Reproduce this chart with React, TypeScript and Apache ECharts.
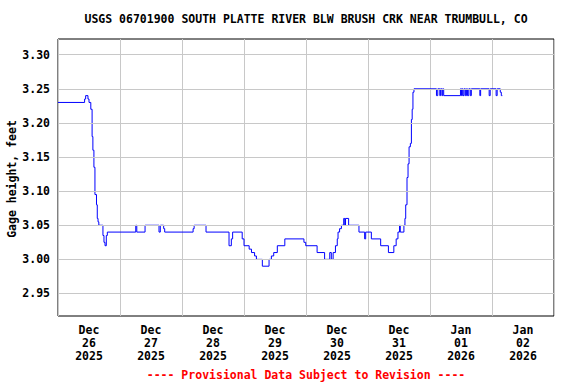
import React, { useEffect, useRef } from "react";
import * as echarts from "echarts";

// Hours since Dec 26 2025 00:00 at which the gage height changes
const hours = [
  0, 10.3, 10.7, 11.6, 12.0, 12.7, 13.2, 13.5, 13.9, 14.3, 14.9, 15.2, 15.5, 15.8,
  17.4, 17.8, 18.2, 18.7, 19.1, 30.1, 30.5, 33.7, 39.1, 39.6, 40.9, 41.3, 52.3,
  52.7, 57.3, 66.2, 67.1, 67.6, 71.3, 72.0, 74.0, 74.9, 76.1, 76.8, 79.1, 81.7,
  82.6, 83.5, 84.9, 87.8, 95.2, 95.9, 100.3, 103.2, 105.2, 105.8, 106.5, 107.4,
  108.1, 108.4, 109.0, 109.7, 110.6, 111.0, 111.3, 112.5, 116.5, 118.7, 119.1,
  121.3, 124.9, 127.9, 130.0, 130.9, 131.6, 132.2, 132.5, 133.9, 134.3, 134.6,
  135.1, 135.5, 135.9, 136.4, 136.8, 137.1, 137.4, 137.8, 146.5, 147.0, 147.8,
  148.1, 148.6, 148.9, 149.3, 155.8, 156.2, 156.5, 156.8, 157.2, 157.7, 158.1,
  158.5, 159.0, 159.6, 160.0, 163.3, 163.6, 166.9, 167.3, 169.6, 170.0, 171.2,
  171.6, 172.0,
];

// Gage height, feet
const stage = [
  3.23, 3.235, 3.24, 3.235, 3.23, 3.22, 3.18, 3.16, 3.135, 3.095, 3.08, 3.06, 3.055, 3.05,
  3.035, 3.025, 3.02, 3.035, 3.04, 3.05, 3.04, 3.05, 3.04, 3.05, 3.045, 3.04, 3.045,
  3.05, 3.04, 3.02, 3.03, 3.04, 3.03, 3.02, 3.015, 3.01, 3.005, 3.0, 2.99, 3.0,
  3.005, 3.01, 3.02, 3.03, 3.025, 3.02, 3.01, 3.0, 3.01, 3.0, 3.01, 3.02,
  3.03, 3.04, 3.045, 3.05, 3.06, 3.05, 3.06, 3.05, 3.04, 3.03, 3.04,
  3.03, 3.02, 3.01, 3.02, 3.03, 3.04, 3.05, 3.04, 3.05, 3.06, 3.08,
  3.12, 3.14, 3.165, 3.17, 3.205, 3.22, 3.245, 3.25, 3.24, 3.25, 3.24,
  3.25, 3.24, 3.25, 3.24, 3.25, 3.24, 3.25, 3.24, 3.25, 3.24, 3.25,
  3.24, 3.25, 3.24, 3.25, 3.24, 3.25, 3.24, 3.25, 3.24, 3.25, 3.245,
  3.24, 3.24,
];

// y tick values (feet)
const yTicks = [2.95, 3.0, 3.05, 3.1, 3.15, 3.2, 3.25, 3.3];

const dayLabels = [
  "Dec\n26\n2025",
  "Dec\n27\n2025",
  "Dec\n28\n2025",
  "Dec\n29\n2025",
  "Dec\n30\n2025",
  "Dec\n31\n2025",
  "Jan\n01\n2026",
  "Jan\n02\n2026",
];

const titleText = "USGS 06701900 SOUTH PLATTE RIVER BLW BRUSH CRK NEAR TRUMBULL, CO";
const yTitle = "Gage height, feet";
const footerText = "---- Provisional Data Subject to Revision ----";

const FONT = "DejaVu Sans Mono";

export default function App() {
  const ref = useRef<HTMLDivElement>(null);

  useEffect(() => {
    if (!ref.current) return;
    const chart = echarts.init(ref.current, null, { renderer: "svg" });
    const data = hours.map((h, i) => [h, stage[i]]);
    chart.setOption({
      animation: false,
      backgroundColor: "#ffffff",
      grid: {
        left: 58,
        top: 39,
        right: 22,
        bottom: 68,
        containLabel: false,
        outerBoundsMode: "none",
        show: true,
        borderColor: "#000000",
        borderWidth: 1,
        backgroundColor: "transparent",
      },
      xAxis: [
        {
          type: "value",
          min: 0,
          max: 192,
          interval: 24,
          axisLine: { show: false },
          axisTick: { show: false },
          axisLabel: { show: false },
          splitLine: { show: true, lineStyle: { color: "#c8c8c8", width: 1 } },
        },
        {
          type: "value",
          position: "bottom",
          min: 0,
          max: 192,
          interval: 12,
          axisLine: { show: false },
          axisTick: { show: false },
          splitLine: { show: false },
          axisLabel: {
            show: true,
            margin: 7,
            color: "#000000",
            fontFamily: FONT,
            fontWeight: "bold",
            fontSize: 11.5,
            lineHeight: 13,
            align: "center",
            formatter: (v: number) => {
              const r = Math.round(v);
              if (r % 24 !== 12) return "";
              const idx = (r - 12) / 24;
              return dayLabels[idx] ?? "";
            },
          },
        },
      ],
      yAxis: {
        type: "value",
        min: 2.917,
        max: 3.323,
        interval: 0.001,
        axisLine: { show: false },
        axisTick: { show: false },
        splitLine: { show: false },
        axisLabel: {
          margin: 8,
          color: "#000000",
          fontFamily: FONT,
          fontWeight: "bold",
          fontSize: 11.5,
          showMinLabel: false,
          showMaxLabel: false,
          formatter: (v: number) => {
            const hit = yTicks.find((t) => Math.abs(t - v) < 0.0004);
            return hit === undefined ? "" : hit.toFixed(2);
          },
        },
      },
      series: [
        {
          type: "line",
          xAxisIndex: 0,
          data: [],
          z: 1,
          silent: true,
          markLine: {
            silent: true,
            symbol: "none",
            label: { show: false },
            lineStyle: { color: "#c8c8c8", width: 1, type: "solid" },
            data: yTicks.map((v) => ({ yAxis: v })),
          },
        },
        {
          type: "line",
          xAxisIndex: 0,
          z: 3,
          step: "end",
          showSymbol: false,
          symbol: "none",
          data,
          lineStyle: { color: "#0000ff", width: 1 },
          itemStyle: { color: "#0000ff" },
        },
      ],
      graphic: [
        {
          type: "text",
          x: 306,
          y: 19,
          style: {
            text: titleText,
            fill: "#000000",
            fontFamily: FONT,
            fontWeight: "bold",
            fontSize: 11.5,
            align: "center",
            verticalAlign: "middle",
          },
        },
        {
          type: "text",
          x: 12,
          y: 179,
          rotation: Math.PI / 2,
          style: {
            text: yTitle,
            fill: "#000000",
            fontFamily: FONT,
            fontWeight: "bold",
            fontSize: 11.5,
            align: "center",
            verticalAlign: "middle",
          },
        },
        {
          type: "text",
          x: 306,
          y: 375,
          style: {
            text: footerText,
            fill: "#ff0000",
            fontFamily: FONT,
            fontWeight: "bold",
            fontSize: 11.5,
            align: "center",
            verticalAlign: "middle",
          },
        },
      ],
    });
    return () => chart.dispose();
  }, []);

  return (
    <div
      ref={ref}
      style={{ position: "fixed", left: 0, top: 0, width: 576, height: 384, background: "#fff" }}
    />
  );
}
